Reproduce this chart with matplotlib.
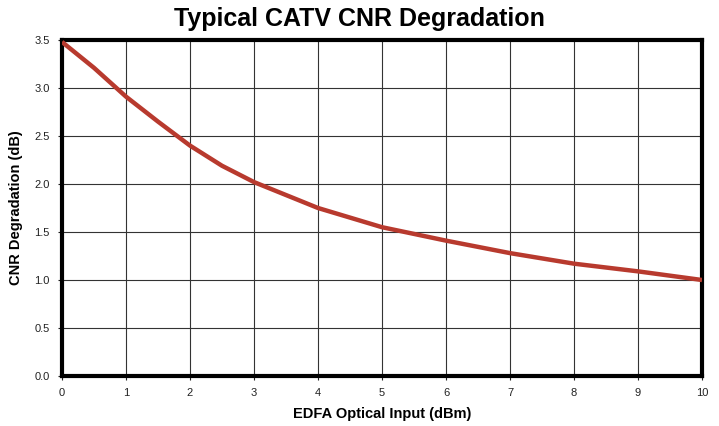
import matplotlib
matplotlib.use("Agg")
import matplotlib.pyplot as plt

x_input = [0, 0.5, 1, 1.5, 2, 2.5, 3, 4, 5, 6, 7, 8, 9, 10]
cnr_deg = [3.48, 3.21, 2.91, 2.65, 2.40, 2.19, 2.02, 1.75, 1.55, 1.41, 1.28, 1.17, 1.09, 1.00]
x_ticks = list(range(0, 11))
y_ticks = [0.0, 0.5, 1.0, 1.5, 2.0, 2.5, 3.0, 3.5]

plt.rcParams['font.family'] = ['Liberation Sans', 'DejaVu Sans']
fig = plt.figure(figsize=(7.19, 4.26), dpi=100)
ax = fig.add_axes([62/719, 50/426, 640/719, 336/426])
ax.plot(x_input, cnr_deg, color='#B83A2E', lw=3.2, solid_capstyle='butt',
        solid_joinstyle='round', zorder=3)
ax.set_xlim(0, 10)
ax.set_ylim(0, 3.5)
ax.set_xticks(x_ticks)
ax.set_yticks(y_ticks)
ax.set_yticklabels([f"{v:.1f}" for v in y_ticks])
ax.grid(True, color='#333333', lw=0.8)
ax.set_axisbelow(True)
for s in ax.spines.values():
    s.set_linewidth(3)
    s.set_color('black')
ax.tick_params(axis='both', labelsize=8, colors='#222222', length=3, width=0.8, pad=6)
for lbl in ax.get_xticklabels() + ax.get_yticklabels():
    lbl.set_fontstretch('condensed')
ax.set_xlabel('EDFA Optical Input (dBm)', fontsize=10.5, fontweight='bold', labelpad=6)
ax.set_ylabel('CNR Degradation (dB)', fontsize=10.5, fontweight='bold', labelpad=8)
fig.text(0.5, 1 - 19/426, 'Typical CATV CNR Degradation', fontsize=18,
         fontweight='bold', ha='center', va='center')
fig.savefig('out.png', dpi=100)
